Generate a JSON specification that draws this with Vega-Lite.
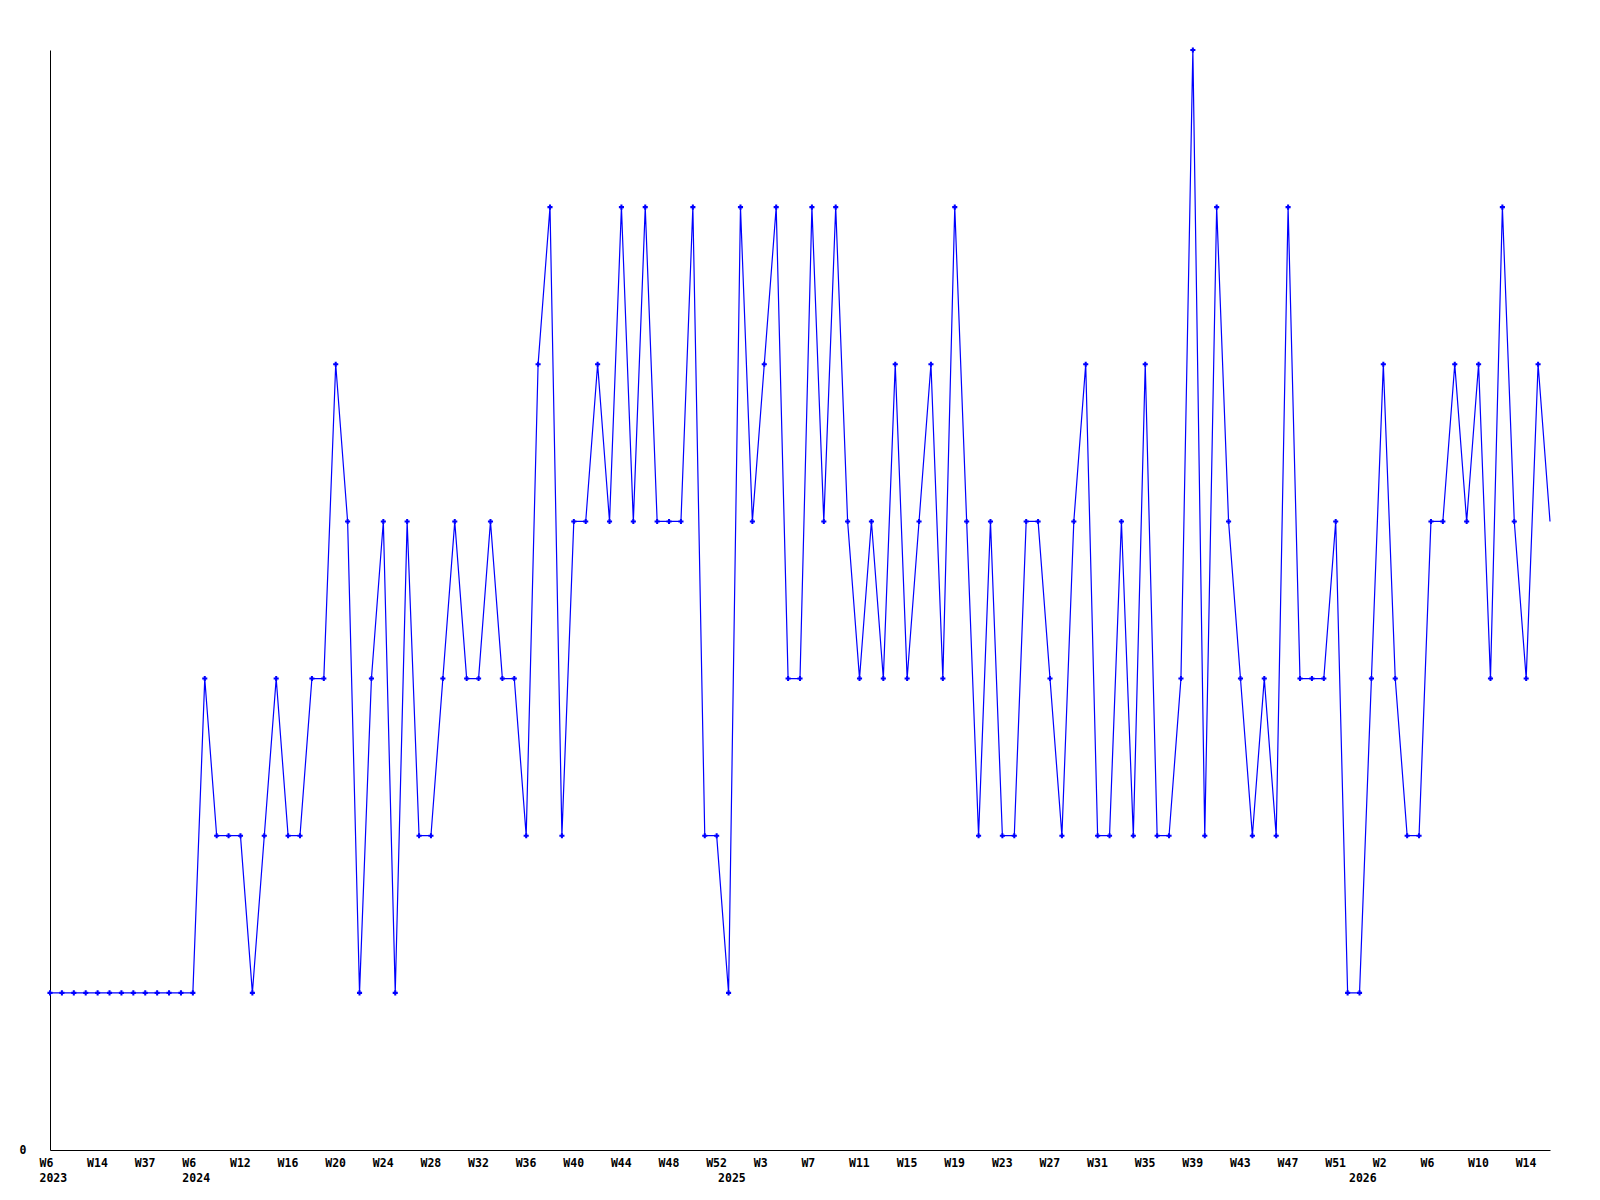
{
  "$schema": "https://vega.github.io/schema/vega-lite/v6.json",
  "width": 1500,
  "height": 1100,
  "autosize": {"type": "none"},
  "padding": {"left": 50, "top": 50, "right": 50, "bottom": 50},
  "background": "#ffffff",
  "config": {"view": {"stroke": null}},
  "data": {"values": [
    {"w": "2023-W06", "v": 1}, {"w": "2023-W08", "v": 1}, {"w": "2023-W10", "v": 1}, {"w": "2023-W12", "v": 1},
    {"w": "2023-W14", "v": 1}, {"w": "2023-W18", "v": 1}, {"w": "2023-W22", "v": 1}, {"w": "2023-W28", "v": 1},
    {"w": "2023-W37", "v": 1}, {"w": "2023-W41", "v": 1}, {"w": "2023-W45", "v": 1}, {"w": "2023-W49", "v": 1},
    {"w": "2024-W06", "v": 1}, {"w": "2024-W08", "v": 3}, {"w": "2024-W09", "v": 2}, {"w": "2024-W11", "v": 2},
    {"w": "2024-W12", "v": 2}, {"w": "2024-W13", "v": 1}, {"w": "2024-W14", "v": 2}, {"w": "2024-W15", "v": 3},
    {"w": "2024-W16", "v": 2}, {"w": "2024-W17", "v": 2}, {"w": "2024-W18", "v": 3}, {"w": "2024-W19", "v": 3},
    {"w": "2024-W20", "v": 5}, {"w": "2024-W21", "v": 4}, {"w": "2024-W22", "v": 1}, {"w": "2024-W23", "v": 3},
    {"w": "2024-W24", "v": 4}, {"w": "2024-W25", "v": 1}, {"w": "2024-W26", "v": 4}, {"w": "2024-W27", "v": 2},
    {"w": "2024-W28", "v": 2}, {"w": "2024-W29", "v": 3}, {"w": "2024-W30", "v": 4}, {"w": "2024-W31", "v": 3},
    {"w": "2024-W32", "v": 3}, {"w": "2024-W33", "v": 4}, {"w": "2024-W34", "v": 3}, {"w": "2024-W35", "v": 3},
    {"w": "2024-W36", "v": 2}, {"w": "2024-W37", "v": 5}, {"w": "2024-W38", "v": 6}, {"w": "2024-W39", "v": 2},
    {"w": "2024-W40", "v": 4}, {"w": "2024-W41", "v": 4}, {"w": "2024-W42", "v": 5}, {"w": "2024-W43", "v": 4},
    {"w": "2024-W44", "v": 6}, {"w": "2024-W45", "v": 4}, {"w": "2024-W46", "v": 6}, {"w": "2024-W47", "v": 4},
    {"w": "2024-W48", "v": 4}, {"w": "2024-W49", "v": 4}, {"w": "2024-W50", "v": 6}, {"w": "2024-W51", "v": 2},
    {"w": "2024-W52", "v": 2},
    {"w": "2025-W00", "v": 1}, {"w": "2025-W01", "v": 6}, {"w": "2025-W02", "v": 4}, {"w": "2025-W03", "v": 5},
    {"w": "2025-W04", "v": 6}, {"w": "2025-W05", "v": 3}, {"w": "2025-W06", "v": 3}, {"w": "2025-W07", "v": 6},
    {"w": "2025-W08", "v": 4}, {"w": "2025-W09", "v": 6}, {"w": "2025-W10", "v": 4}, {"w": "2025-W11", "v": 3},
    {"w": "2025-W12", "v": 4}, {"w": "2025-W13", "v": 3}, {"w": "2025-W14", "v": 5}, {"w": "2025-W15", "v": 3},
    {"w": "2025-W16", "v": 4}, {"w": "2025-W17", "v": 5}, {"w": "2025-W18", "v": 3}, {"w": "2025-W19", "v": 6},
    {"w": "2025-W20", "v": 4}, {"w": "2025-W21", "v": 2}, {"w": "2025-W22", "v": 4}, {"w": "2025-W23", "v": 2},
    {"w": "2025-W24", "v": 2}, {"w": "2025-W25", "v": 4}, {"w": "2025-W26", "v": 4}, {"w": "2025-W27", "v": 3},
    {"w": "2025-W28", "v": 2}, {"w": "2025-W29", "v": 4}, {"w": "2025-W30", "v": 5}, {"w": "2025-W31", "v": 2},
    {"w": "2025-W32", "v": 2}, {"w": "2025-W33", "v": 4}, {"w": "2025-W34", "v": 2}, {"w": "2025-W35", "v": 5},
    {"w": "2025-W36", "v": 2}, {"w": "2025-W37", "v": 2}, {"w": "2025-W38", "v": 3}, {"w": "2025-W39", "v": 7},
    {"w": "2025-W40", "v": 2}, {"w": "2025-W41", "v": 6}, {"w": "2025-W42", "v": 4}, {"w": "2025-W43", "v": 3},
    {"w": "2025-W44", "v": 2}, {"w": "2025-W45", "v": 3}, {"w": "2025-W46", "v": 2}, {"w": "2025-W47", "v": 6},
    {"w": "2025-W48", "v": 3}, {"w": "2025-W49", "v": 3}, {"w": "2025-W50", "v": 3}, {"w": "2025-W51", "v": 4},
    {"w": "2025-W52", "v": 1},
    {"w": "2026-W00", "v": 1}, {"w": "2026-W01", "v": 3}, {"w": "2026-W02", "v": 5}, {"w": "2026-W03", "v": 3},
    {"w": "2026-W04", "v": 2}, {"w": "2026-W05", "v": 2}, {"w": "2026-W06", "v": 4}, {"w": "2026-W07", "v": 4},
    {"w": "2026-W08", "v": 5}, {"w": "2026-W09", "v": 4}, {"w": "2026-W10", "v": 5}, {"w": "2026-W11", "v": 3},
    {"w": "2026-W12", "v": 6}, {"w": "2026-W13", "v": 4}, {"w": "2026-W14", "v": 3}, {"w": "2026-W15", "v": 5},
    {"w": "2026-W16", "v": 4}
  ]},
  "encoding": {
    "x": {
      "field": "w", "type": "ordinal", "sort": "ascending",
      "scale": {"type": "point", "padding": 0},
      "axis": {
        "title": null, "ticks": false, "tickSize": 0, "grid": false,
        "domainColor": "#000000", "domainWidth": 1,
        "labelAngle": 0, "labelAlign": "left", "labelBaseline": "top", "labelOffset": -11,
        "labelPadding": 7, "labelOverlap": false, "labelBound": false, "labelFlush": false, "labelLimit": 0,
        "labelFont": "DejaVu Sans Mono", "labelFontWeight": "bold", "labelFontSize": 11.5,
        "labelColor": "#000000", "labelLineHeight": 15,
        "labelExpr": "[indexof(domain('x'), datum.value) % 4 == 0 ? 'W' + parseInt(substring(datum.value, 6)) : '', (indexof(domain('x'), datum.value) == 0 || substring(domain('x')[indexof(domain('x'), datum.value) - 1], 0, 4) != substring(datum.value, 0, 4)) ? substring(datum.value, 0, 4) : '']"
      }
    },
    "y": {
      "field": "v", "type": "quantitative",
      "scale": {"domain": [0, 7], "nice": false, "zero": true},
      "axis": {
        "title": null, "values": [0], "ticks": false, "tickSize": 0, "grid": false,
        "domainColor": "#000000", "domainWidth": 1,
        "labelPadding": 24, "labelFont": "DejaVu Sans Mono", "labelFontWeight": "bold",
        "labelFontSize": 11.5, "labelColor": "#000000", "labelBaseline": "middle"
      }
    }
  },
  "layer": [
    {"mark": {"type": "line", "color": "#0000ff", "strokeWidth": 1.2, "interpolate": "linear"}},
    {
      "transform": [{"filter": "datum.w != '2026-W16'"}],
      "mark": {"type": "point", "shape": "cross", "filled": true, "size": 26, "color": "#0000ff", "opacity": 1}
    }
  ]
}
